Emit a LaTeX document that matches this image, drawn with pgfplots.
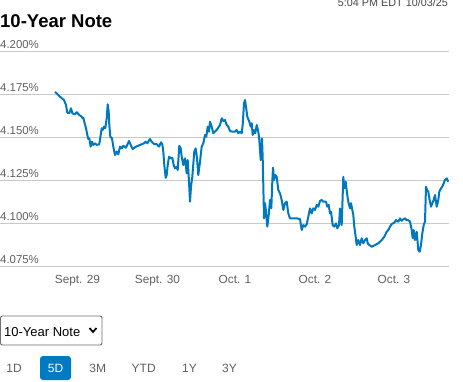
\documentclass[border=0pt]{standalone}
\usepackage{fontspec}
\setmainfont{Liberation Sans}
\usepackage{pgfplots}
\pgfplotsset{compat=1.18}
\definecolor{lineblue}{RGB}{0,120,190}
\definecolor{gridgray}{RGB}{200,200,200}
\definecolor{labgray}{RGB}{95,95,95}
\definecolor{btnblue}{RGB}{0,122,194}
\begin{document}
\begin{tikzpicture}
\useasboundingbox (0,0) rectangle (463pt,-381pt);
\begin{axis}[
  at={(0pt,-266pt)}, anchor=south west,
  scale only axis, width=449pt, height=215pt,
  xmin=0, xmax=449, ymin=4.075, ymax=4.2,
  axis line style={draw=none},
  major tick length=0pt,
  ytick={4.075,4.1,4.125,4.15,4.175,4.2},
  yticklabels={4.075\%,4.100\%,4.125\%,4.150\%,4.175\%,4.200\%},
  ymajorgrids, grid style={gridgray, line width=1pt},
  yticklabel style={anchor=south west, inner sep=0pt, yshift=2.5pt,
    font=\fontsize{11.4}{13}\selectfont, text=labgray},
  xtick={77.5,157.5,235,315,394},
  xticklabels={Sept. 29,Sept. 30,Oct. 1,Oct. 2,Oct. 3},
  xticklabel style={font=\fontsize{11.8}{13}\selectfont, text=labgray, yshift=-6pt},
  clip=false,
]
\addplot[lineblue, line width=2pt, line join=round] coordinates {
(55,4.1763)(60,4.1734)(64,4.1715)(66,4.1686)(67.3,4.1641)(69.3,4.1638)(71,4.1667)
(72.3,4.1638)(75,4.1632)(76.7,4.1644)(79.3,4.1628)(81.7,4.1618)(82.7,4.1609)(83.3,4.1612)
(84.3,4.1589)(86,4.1551)(87.3,4.1512)(88.3,4.1488)(89.3,4.1492)(90.7,4.1444)(92,4.1473)
(93.3,4.1454)(95,4.1463)(96.7,4.1454)(99.3,4.1458)(100.7,4.1512)(101.7,4.1551)(102.7,4.1541)
(104,4.1560)(105.3,4.1551)(106.7,4.1609)(107.7,4.1690)(108.7,4.1647)(109.3,4.1570)(110.3,4.1502)
(112,4.1492)(113.3,4.1444)(115,4.1395)(116.7,4.1415)(118.3,4.1399)(120,4.1444)(121.7,4.1434)
(123.3,4.1449)(126,4.1438)(129,4.1477)(130.7,4.1454)(132.7,4.1430)(136,4.1444)(140,4.1454)
(144,4.1463)(145.7,4.1473)(147.3,4.1463)(149.3,4.1483)(150,4.1488)(151.7,4.1473)(154.3,4.1458)
(156.7,4.1458)(159,4.1444)(161,4.1469)(162.3,4.1458)(163.3,4.1415)(164.3,4.1337)(165.7,4.1263)
(166.7,4.1279)(167.7,4.1337)(169,4.1385)(171,4.1376)(172.3,4.1380)(173.7,4.1337)(175,4.1318)
(176.7,4.1327)(177.7,4.1308)(179.3,4.1449)(180.7,4.1434)(181.7,4.1385)(183.3,4.1337)(185,4.1376)
(186.7,4.1289)(187.7,4.1366)(189,4.1240)(190,4.1124)(191,4.1211)(192.3,4.1269)(194.3,4.1415)
(195.7,4.1434)(197,4.1376)(198.3,4.1279)(200,4.1356)(201.7,4.1444)(203.3,4.1463)(205,4.1512)
(206.3,4.1502)(207.7,4.1560)(209,4.1531)(210,4.1589)(211.7,4.1560)(213.3,4.1522)(216.7,4.1541)
(220,4.1570)(221.7,4.1609)(223.3,4.1593)(225,4.1599)(226.7,4.1570)(228.3,4.1560)(230,4.1535)
(232.3,4.1531)(235,4.1531)(236.7,4.1541)(238.3,4.1522)(240,4.1531)(241.7,4.1522)(242.7,4.1570)
(244,4.1696)(245,4.1715)(246,4.1676)(247.3,4.1618)(249.3,4.1589)(250.7,4.1560)(251.7,4.1580)
(252.7,4.1512)(254,4.1541)(255.3,4.1522)(256.7,4.1570)(258.3,4.1531)(259.3,4.1483)(260.7,4.1366)
(262,4.1492)(262.7,4.1376)(263.3,4.1221)(264,4.1027)(265,4.1115)(266,4.1066)(267.3,4.0979)
(268.7,4.1047)(270,4.1134)(271.3,4.1085)(272.3,4.1240)(273,4.1322)(274,4.1250)(275.3,4.1279)
(276.7,4.1269)(278.3,4.1192)(280,4.1173)(281.7,4.1134)(283.3,4.1076)(285,4.1115)(286.7,4.1124)
(288.3,4.1056)(290,4.1027)(293.3,4.1027)(296.7,4.1027)(300,4.1023)(301.7,4.0959)(303.3,4.0988)
(305,4.0979)(306.7,4.0992)(308.3,4.1037)(310,4.1085)(311.7,4.1056)(313.3,4.1085)(315,4.1076)
(316.7,4.1105)(318.3,4.1095)(320,4.1128)(321.7,4.1134)(323.3,4.1124)(326,4.1124)(327.3,4.1095)
(328.7,4.1105)(330,4.1056)(331,4.1066)(332.7,4.0988)(334.3,4.0979)(336,4.0998)(337.3,4.0969)
(339,4.0988)(340,4.1085)(341,4.1037)(341.7,4.0988)(343.3,4.1269)(344.3,4.1202)(345.7,4.1240)
(347,4.1173)(348.3,4.1124)(350,4.1085)(351,4.1115)(352.3,4.1076)(353.3,4.1047)(354.3,4.0979)
(355.7,4.0920)(356.7,4.0872)(358.3,4.0901)(360,4.0872)(361.7,4.0911)(363.3,4.0882)(365,4.0901)
(366.7,4.0911)(367.7,4.0882)(369.3,4.0872)(371.7,4.0862)(375,4.0872)(378.3,4.0882)(381.7,4.0901)
(384.3,4.0920)(386.7,4.0949)(388.3,4.0959)(390,4.0979)(391.7,4.0994)(394.3,4.1002)(396,4.1017)
(398.3,4.1008)(400,4.1027)(401.7,4.1013)(403.3,4.1022)(405,4.1027)(406.7,4.1017)(408.3,4.1017)
(410,4.1008)(411.7,4.0959)(412.7,4.0911)(413.7,4.0959)(415,4.0901)(416.7,4.0949)(418.3,4.0843)
(419.7,4.0833)(421,4.0872)(422.3,4.0940)(423.7,4.0988)(425,4.1008)(426,4.1211)(427,4.1192)
(428.3,4.1182)(429.3,4.1144)(431,4.1095)(432.3,4.1115)(433.7,4.1134)(435,4.1163)(436.7,4.1095)
(438.3,4.1134)(439.3,4.1182)(441,4.1202)(442.3,4.1211)(443.7,4.1231)(445,4.1250)(446.7,4.1260)
(448.3,4.1240)
};
\end{axis}
% title and timestamp
\node[anchor=base west, inner sep=0pt, font=\bfseries\fontsize{18.5}{22}\selectfont] at (0pt,-27pt) {10-Year Note};
\node[anchor=base east, inner sep=0pt, text={rgb,255:red,70;green,70;blue,70}, font=\fontsize{10.8}{13}\selectfont] at (448pt,-6pt) {5:04 PM EDT 10/03/25};
% dropdown
\draw[draw={rgb,255:red,110;green,110;blue,110}, line width=0.9pt, rounded corners=2pt] (0.5pt,-316pt) rectangle (102pt,-345pt);
\node[anchor=base west, inner sep=0pt, font=\fontsize{13}{15}\selectfont] at (4pt,-336pt) {10-Year Note};
\draw[line width=1.7pt] (89.5pt,-328pt) -- (93pt,-332pt) -- (96.5pt,-328pt);
% range buttons
\fill[btnblue, rounded corners=3pt] (40pt,-356pt) rectangle (71pt,-380pt);
\begin{scope}[every node/.style={anchor=base, inner sep=0pt, font=\fontsize{12}{14}\selectfont, text=labgray}]
\node at (14pt,-372.5pt) {1D};
\node[text=white] at (55.5pt,-372.5pt) {5D};
\node at (97.7pt,-372.5pt) {3M};
\node at (143.7pt,-372.5pt) {YTD};
\node at (189.5pt,-372.5pt) {1Y};
\node at (229.5pt,-372.5pt) {3Y};
\end{scope}
\end{tikzpicture}
\end{document}
